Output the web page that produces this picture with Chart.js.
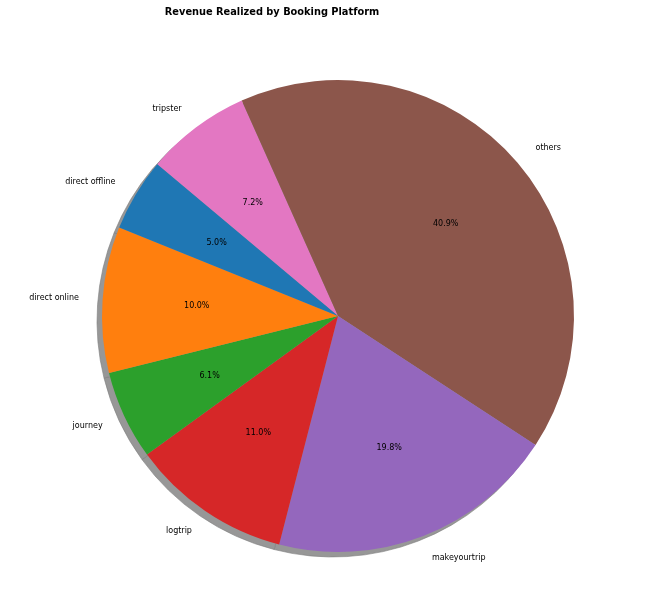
<!DOCTYPE html>
<html><head><meta charset="utf-8">
<script src="https://cdn.jsdelivr.net/npm/chart.js@4.4.0/dist/chart.umd.min.js"></script>
<style>html,body{margin:0;padding:0;background:#fff}canvas{display:block}</style>
</head><body>
<canvas id="c" width="650" height="606"></canvas>
<script>
const titleText = "Revenue Realized by Booking Platform";
const platforms = ["direct offline","direct online","journey","logtrip","makeyourtrip","others","tripster"];
const sharePct = [5.0, 10.0, 6.1, 11.0, 19.8, 40.9, 7.2];
const colors = ["#1f77b4","#ff7f0e","#2ca02c","#d62728","#9467bd","#8c564b","#e377c2"];
const startAngleDeg = 140; // matplotlib startangle, counterclockwise

// Chart.js draws clockwise: reverse order to mimic counterclockwise
const labelsR = platforms.slice().reverse();
const dataR = sharePct.slice().reverse();
const colorsR = colors.slice().reverse();

const shadowPlugin = {
  id: 'shadow',
  beforeDatasetsDraw(chart) {
    const meta = chart.getDatasetMeta(0);
    const ctx = chart.ctx;
    ctx.save();
    meta.data.forEach(arc => {
      const p = arc.getProps(['x','y','startAngle','endAngle','outerRadius']);
      ctx.beginPath();
      ctx.moveTo(p.x - 5, p.y + 5);
      ctx.arc(p.x - 5, p.y + 5, p.outerRadius, p.startAngle, p.endAngle);
      ctx.closePath();
      ctx.fillStyle = '#979797';
      ctx.fill();
      ctx.strokeStyle = '#7d7d7d';
      ctx.lineWidth = 0.6;
      ctx.stroke();
    });
    ctx.restore();
  }
};

const textPlugin = {
  id: 'texts',
  afterDatasetsDraw(chart) {
    const meta = chart.getDatasetMeta(0);
    const ctx = chart.ctx;
    ctx.save();
    ctx.fillStyle = '#000';
    meta.data.forEach((arc, i) => {
      const p = arc.getProps(['x','y','startAngle','endAngle','outerRadius']);
      const mid = (p.startAngle + p.endAngle) / 2;
      const r = p.outerRadius;
      ctx.font = '8px "DejaVu Sans"';
      ctx.textAlign = 'center';
      ctx.textBaseline = 'middle';
      ctx.fillText(dataR[i].toFixed(1) + '%', p.x + 0.6 * r * Math.cos(mid), p.y + 0.6 * r * Math.sin(mid));
      const lx = p.x + 1.1 * r * Math.cos(mid);
      const ly = p.y + 1.1 * r * Math.sin(mid);
      ctx.textAlign = Math.cos(mid) < 0 ? 'right' : 'left';
      ctx.fillText(labelsR[i], lx, ly);
    });
    ctx.font = 'bold 9.8px "DejaVu Sans"';
    ctx.textAlign = 'center';
    ctx.textBaseline = 'middle';
    ctx.fillText(titleText, 272, 12);
    ctx.restore();
  }
};

new Chart(document.getElementById('c'), {
  type: 'pie',
  data: {
    labels: labelsR,
    datasets: [{
      data: dataR,
      backgroundColor: colorsR,
      borderWidth: 0
    }]
  },
  options: {
    responsive: false,
    animation: false,
    rotation: 90 - startAngleDeg,
    layout: { padding: { left: 102, right: 76, top: 80, bottom: 54 } },
    plugins: { legend: { display: false }, tooltip: { enabled: false }, title: { display: false } }
  },
  plugins: [shadowPlugin, textPlugin]
});
</script>
</body></html>
